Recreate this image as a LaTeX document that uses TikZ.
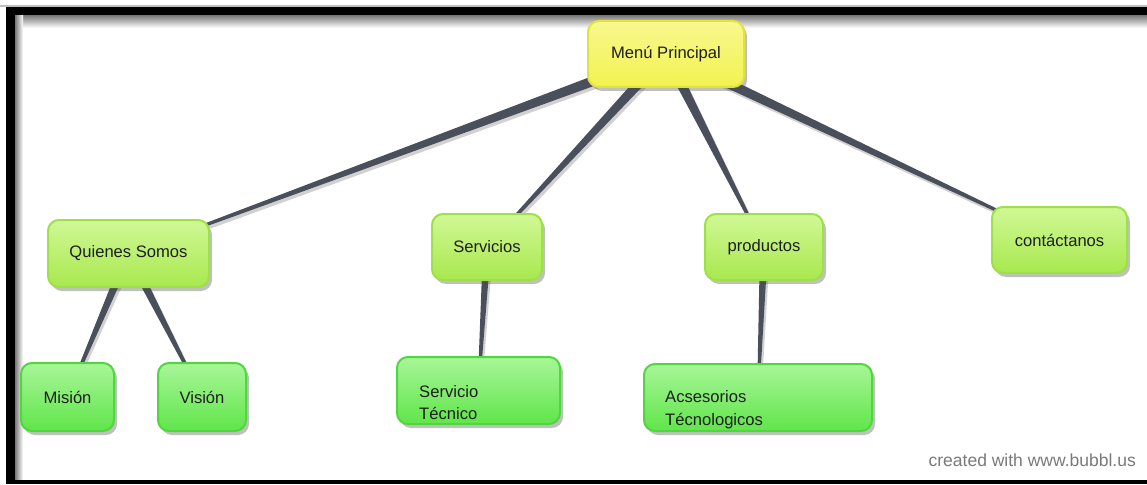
\documentclass[tikz,border=0pt]{standalone}
\usepackage{fontspec}
\setmainfont{Liberation Sans}
\usetikzlibrary{calc,shadows,backgrounds}
\definecolor{txt}{HTML}{1E1E1E}
\definecolor{menuT}{HTML}{F8F88E}
\definecolor{menuF}{HTML}{F2F250}
\definecolor{menuB}{HTML}{E2E23E}
\definecolor{lvT}{HTML}{D0F896}
\definecolor{lvF}{HTML}{A8E84E}
\definecolor{lvB}{HTML}{9EE048}
\definecolor{grT}{HTML}{A8F698}
\definecolor{grF}{HTML}{60E54A}
\definecolor{grB}{HTML}{50D63E}
\definecolor{conn}{HTML}{4A4F5C}
\definecolor{mark}{HTML}{7A7A7A}
\newcommand\taper[4]{%
  \fill[black, opacity=0.18] ($($(#1)!#3!90:(#2)$)+(2,3)$) -- ($($(#2)!#4!-90:(#1)$)+(2,3)$) -- ($($(#2)!#4!90:(#1)$)+(2,3)$) -- ($($(#1)!#3!-90:(#2)$)+(2,3)$) -- cycle;
  \fill[conn] ($(#1)!#3!90:(#2)$) -- ($(#2)!#4!-90:(#1)$) -- ($(#2)!#4!90:(#1)$) -- ($(#1)!#3!-90:(#2)$) -- cycle;}
\tikzset{
  box/.style={rounded corners=11pt, line width=2pt, text=txt, inner sep=0pt,
    font=\fontsize{16.6}{22}\selectfont,
    drop shadow={shadow xshift=3pt, shadow yshift=-4pt, opacity=0.35, fill=black!70}},
  menubox/.style={box, draw=menuB, top color=menuT, bottom color=menuF},
  lvbox/.style={box, draw=lvB, top color=lvT, bottom color=lvF},
  grbox/.style={box, draw=grB, top color=grT, bottom color=grF},
  boxtext/.style={text=txt, inner sep=0pt, anchor=west, align=left, font=\fontsize{16.6}{22.5}\selectfont},
}
\begin{document}
\begin{tikzpicture}[x=1pt,y=-1pt]
\useasboundingbox (0,0) rectangle (1147,484);
% nodes
\node[menubox, minimum width=156pt, minimum height=66pt] (menu) at (666,54) {Menú Principal};
\node[lvbox, minimum width=161pt, minimum height=67pt] (quienes) at (128.5,253.5) {Quienes Somos};
\node[lvbox, minimum width=110pt, minimum height=66pt] (servicios) at (487,247) {Servicios};
\node[lvbox, minimum width=118pt, minimum height=66pt] (productos) at (764,247) {productos};
\node[lvbox, minimum width=135pt, minimum height=66pt] (contact) at (1059.5,240) {contáctanos};
\node[grbox, minimum width=93pt, minimum height=68pt] (mision) at (67.5,397) {Misión};
\node[grbox, minimum width=88pt, minimum height=68pt] (vision) at (202,397) {Visión};
\node[grbox, minimum width=163pt, minimum height=67pt] (servtec) at (478.5,390.5) {};
\node[boxtext] (servtectext) at ($(servtec.west)+(23,12)$) {Servicio\\Técnico};
\node[grbox, minimum width=228pt, minimum height=67pt] (acses) at (758,397.5) {};
\node[boxtext] (acsestext) at ($(acses.west)+(22,12)$) {Acsesorios\\Técnologicos};
\node[text=mark, inner sep=0pt, anchor=east, font=\fontsize{17.5}{20}\selectfont] (credit) at (1136,460) {created with www.bubbl.us};
\begin{scope}[on background layer]
% page and frame
\fill[white] (0,0) rectangle (1147,484);
\fill[black!25] (0,5.5) rectangle (1147,6.8);
\shade[top color=black!55, bottom color=white] (14.7,14.7) rectangle (1147,28);
\shade[left color=black!55, right color=white] (14.7,14.7) rectangle (23,480);
\fill[black] (6,6.8) rectangle (1147,14.7);
\fill[black] (6,6.8) rectangle (14.7,484);
\fill[black] (6,479.5) rectangle (1147,484);
% connectors
\taper{menu.center}{quienes.center}{5.5pt}{1pt}
\taper{menu.center}{servicios.center}{5.5pt}{1pt}
\taper{menu.center}{productos.center}{5.5pt}{1pt}
\taper{menu.center}{contact.center}{5.5pt}{0.9pt}
\taper{quienes.center}{mision.center}{4.5pt}{1pt}
\taper{quienes.center}{vision.center}{4.5pt}{1pt}
\taper{servicios.center}{servtec.center}{4pt}{1pt}
\taper{productos.center}{acses.center}{4pt}{1pt}
\end{scope}
\end{tikzpicture}
\end{document}
